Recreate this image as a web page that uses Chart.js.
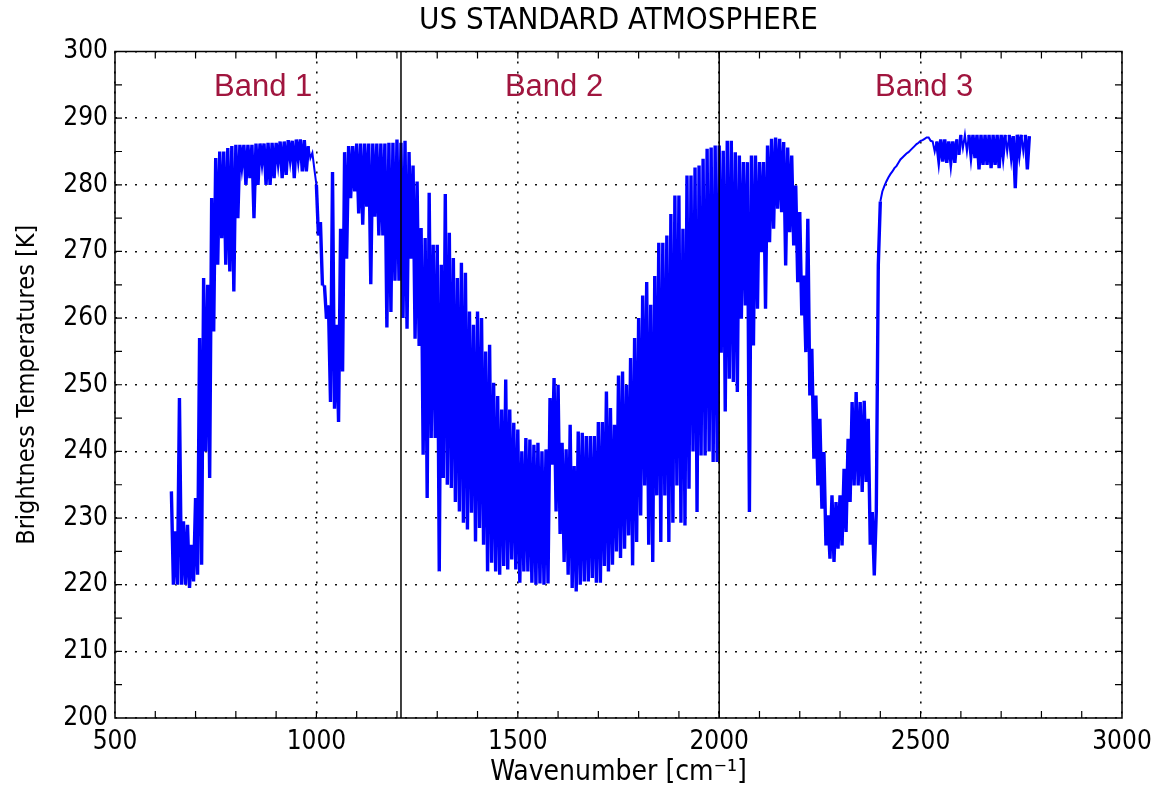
<!DOCTYPE html>
<html>
<head>
<meta charset="utf-8">
<title>US Standard Atmosphere</title>
<script src="https://cdn.jsdelivr.net/npm/chart.js@4.4.1/dist/chart.umd.min.js"></script>
<style>
  html, body { margin: 0; padding: 0; background: #fff; }
  #wrap { width: 1161px; height: 795px; }
</style>
</head>
<body>
<div id="wrap"><canvas id="chart" width="1161" height="795"></canvas></div>
<script>
// === Données ===
const chartTitle = 'US STANDARD ATMOSPHERE';
const xTitle = 'Wavenumber [cm⁻¹]';
const yTitle = 'Brightness Temperatures [K]';

const xTicks = [500, 1000, 1500, 2000, 2500, 3000];
const yTicks = [200, 210, 220, 230, 240, 250, 260, 270, 280, 290, 300];

// limites des bandes et étiquettes
const bandEdges = [1210, 2000];
const bandNames = ['Band 1', 'Band 2', 'Band 3'];
const bandLabelWn = [868, 1590, 2509];
const bandLabelK = 294.6;

// spectre échantillonné tous les 5 cm-1 à partir de 640 cm-1
const wnStart = 640;
const wnStep = 5;
const brightnessK = [
  234, 220, 228, 220, 248, 220, 229.5, 220, 229, 219.5,          // 640
  226, 220.5, 233, 221.5, 257, 223, 266, 240, 265, 236,          // 690
  278, 258, 284, 268, 285, 272, 285, 268, 285.5, 267,            // 740
  285.8, 264, 286, 275, 286, 283, 286, 280, 286, 281,            // 790
  286, 275, 286.2, 280, 286.2, 283.5, 286.2, 280, 286.3, 280,    // 840
  286.3, 281, 286.3, 283.5, 286.5, 281, 286.5, 281.5, 286.7, 284,// 890
  286.6, 281, 286.8, 284, 286.8, 282, 286.7, 282, 285.8, 284,    // 940
  284.8, 282.3, 280, 272.4, 274.4, 264.9, 264.9, 259.9, 261.9, 247.4, // 990
  281.9, 246.4, 259, 244.4, 273.4, 252, 284.9, 268.9, 285.8, 278,     // 1040
  285.8, 279, 286.2, 275.7, 286.2, 274, 286.2, 276.7, 286.2, 265.1,   // 1090
  286.2, 275.2, 286.2, 272.4, 286.2, 272.4, 286.2, 258.6, 286.3, 260.9, // 1140
  286.3, 265.6, 286.8, 265.6, 286.3, 260, 286.6, 258.4, 284.9, 268.9, // 1190
  282.9, 256.9, 280.5, 255.8, 273.5, 239.5, 272, 233, 278.8, 242,     // 1240
  271, 242, 271, 222, 268, 236, 278.6, 235, 272.8, 234.5,             // 1290
  269, 232.4, 266, 231, 268.3, 229.3, 266.8, 228.3, 261, 230.8,       // 1340
  259, 226.5, 261, 228.5, 260, 226, 255, 222, 256, 223.3,             // 1390
  250.3, 222, 248.3, 221.5, 246.3, 222.8, 250.8, 222.3, 246.3, 223.8, // 1440
  244.3, 222.3, 243.3, 220.3, 240, 222, 242, 222, 241.8, 220.3,       // 1490
  241, 220, 241.3, 220.2, 240, 220, 240.3, 220.2, 248, 238,           // 1540
  251, 231, 250, 227.6, 241.3, 223.4, 240.3, 221.5, 244, 219.5,       // 1590
  237.8, 219, 243, 220, 242.8, 220.5, 242.3, 220.5, 242.3, 221,       // 1640
  242.3, 220.3, 244.4, 220.3, 244.4, 222.8, 249, 222, 246.5, 223,     // 1690
  244, 225, 251.4, 224, 252, 225.4, 250, 227.4, 254, 222.9,           // 1740
  257, 226.4, 260, 230.4, 263.4, 234.9, 265.4, 226, 262, 223.4,       // 1790
  266.3, 233.4, 271.3, 226.4, 271.3, 233.4, 272.4, 226.4, 275.6, 229.3, // 1840
  278.4, 234.9, 278.4, 229.3, 273.4, 228.9, 281.4, 234.4, 281.4, 240, // 1890
  282.6, 230.9, 282.9, 239.4, 283.9, 239.4, 285.4, 240, 285.6, 238.4, // 1940
  285.9, 238.4, 285.9, 254.8, 285.1, 246, 286.6, 250.9, 286.6, 250.4, // 1990
  284.9, 248.9, 284.4, 259.9, 283.4, 261.9, 283.4, 230.9, 284.4, 255.9, // 2040
  284.4, 261.4, 283.4, 269.9, 283.4, 261.4, 285.9, 271.4, 286.9, 273.4, // 2090
  287.1, 276.4, 286.9, 275.9, 286.4, 267.9, 285.6, 272.9, 284.4, 270.9, // 2140
  279.9, 265.4, 275.9, 260.4, 266.4, 254.9, 274.9, 248.4, 255.4, 238.9, // 2190
  248.4, 234.9, 244.9, 231.4, 239.9, 225.9, 230.4, 223.9, 233.4, 223.4, // 2240
  232.4, 225.4, 233.4, 225.9, 237.4, 227.9, 241.9, 232.4, 247.4, 234.9, // 2290
  248.9, 234.9, 247.4, 233.9, 247.6, 235.4, 244.9, 226, 230.9, 221.4,   // 2340
  231, 268, 277.5, 279, 279.8, 280.5, 281.1, 281.6, 282, 282.5,         // 2390
  282.8, 283.3, 283.8, 284.1, 284.4, 284.7, 284.9, 285.2, 285.5, 285.8, // 2440
  286.1, 286.3, 286.6, 286.7, 286.9, 287.1, 287.1, 286.6, 286.5, 285,   // 2490
  286.5, 283.8, 286.8, 283.5, 286.8, 283.3, 286.5, 283.5, 286.5, 283.3, // 2540
  286.8, 284.5, 287.5, 285.5, 287.5, 285, 287.5, 284.5, 287.5, 284,     // 2590
  287.5, 282.3, 287.5, 283, 287.5, 283, 287.5, 282.5, 287.5, 283,       // 2640
  287.5, 282.5, 287.5, 284.5, 287.5, 285, 287.5, 284.5, 287.3, 279.5,   // 2690
  287.5, 284.8, 287.5, 285, 287.5, 282.3, 287.3                          // 2740
];

// === Styles ===
const narrowFont = "'DejaVu Sans Condensed', 'Liberation Sans Narrow', 'Liberation Sans', sans-serif";
const bandColor = '#a0153e';
const tickLen = 7;

const points = brightnessK.map((t, i) => ({ x: wnStart + i * wnStep, y: t }));

// titre centré sur la zone de tracé, cadre, graduations intérieures, bandes
const framePlugin = {
  id: 'framePlugin',
  afterDatasetsDraw(chart) {
    const { ctx, chartArea: a, scales: { x, y } } = chart;
    ctx.save();
    ctx.strokeStyle = '#000';
    ctx.lineWidth = 1.5;

    bandEdges.forEach(v => {
      const px = x.getPixelForValue(v);
      ctx.beginPath();
      ctx.moveTo(px, a.top);
      ctx.lineTo(px, a.bottom);
      ctx.stroke();
    });

    ctx.strokeRect(a.left, a.top, a.right - a.left, a.bottom - a.top);

    ctx.lineWidth = 1.2;
    ctx.beginPath();
    for (let v = x.min + 100; v < x.max; v += 100) {
      const px = x.getPixelForValue(v);
      ctx.moveTo(px, a.bottom); ctx.lineTo(px, a.bottom - tickLen);
      ctx.moveTo(px, a.top); ctx.lineTo(px, a.top + tickLen);
    }
    for (let v = y.min + 5; v < y.max; v += 5) {
      const py = y.getPixelForValue(v);
      ctx.moveTo(a.left, py); ctx.lineTo(a.left + tickLen, py);
      ctx.moveTo(a.right, py); ctx.lineTo(a.right - tickLen, py);
    }
    ctx.stroke();

    ctx.textAlign = 'center';
    ctx.textBaseline = 'middle';
    ctx.fillStyle = '#000';
    ctx.font = '31px ' + narrowFont;
    ctx.fillText(chartTitle, (a.left + a.right) / 2, a.top - 31);

    ctx.fillStyle = bandColor;
    ctx.font = "31px 'Liberation Sans', Arial, sans-serif";
    bandNames.forEach((name, i) => {
      ctx.fillText(name, x.getPixelForValue(bandLabelWn[i]), y.getPixelForValue(bandLabelK));
    });
    ctx.restore();
  }
};

const gridStyle = { color: '#111', lineWidth: 1.6, drawTicks: false };

new Chart(document.getElementById('chart'), {
  type: 'line',
  data: {
    datasets: [{
      data: points,
      borderColor: '#0000ff',
      borderWidth: 2,
      pointRadius: 0,
      tension: 0,
      fill: false,
      // raies serrées : trait plus épais pour remplir comme l'original
      segment: {
        borderWidth: c => Math.abs(c.p0.parsed.y - c.p1.parsed.y) > 2.5 ? 3.4 : 2
      }
    }]
  },
  options: {
    responsive: false,
    animation: false,
    events: [],
    layout: { padding: { left: 0, right: 39, top: 51.5, bottom: 0 } },
    plugins: {
      legend: { display: false },
      tooltip: { enabled: false },
      title: { display: false }
    },
    scales: {
      x: {
        type: 'linear',
        min: xTicks[0],
        max: xTicks[xTicks.length - 1],
        afterBuildTicks: s => { s.ticks = xTicks.map(v => ({ value: v })); },
        afterFit: s => { s.height = 77; },
        grid: gridStyle,
        border: { display: false, dash: [2, 8] },
        ticks: {
          color: '#000',
          padding: 9,
          maxRotation: 0,
          font: { family: narrowFont, size: 26 },
          callback: v => String(v)
        },
        title: {
          display: true,
          text: xTitle,
          color: '#000',
          font: { family: narrowFont, size: 28, lineHeight: 1.2 },
          padding: { top: 0, bottom: 5 }
        }
      },
      y: {
        type: 'linear',
        min: yTicks[0],
        max: yTicks[yTicks.length - 1],
        afterBuildTicks: s => { s.ticks = yTicks.map(v => ({ value: v })); },
        afterFit: s => { s.width = 115; },
        grid: gridStyle,
        border: { display: false, dash: [2, 8] },
        ticks: {
          color: '#000',
          padding: 7,
          font: { family: narrowFont, size: 26 },
          callback: v => String(v)
        },
        title: {
          display: true,
          text: yTitle,
          color: '#000',
          font: { family: narrowFont, size: 25, lineHeight: 1.2 },
          padding: { top: 12, bottom: 0 }
        }
      }
    }
  },
  plugins: [framePlugin]
});
</script>
</body>
</html>
